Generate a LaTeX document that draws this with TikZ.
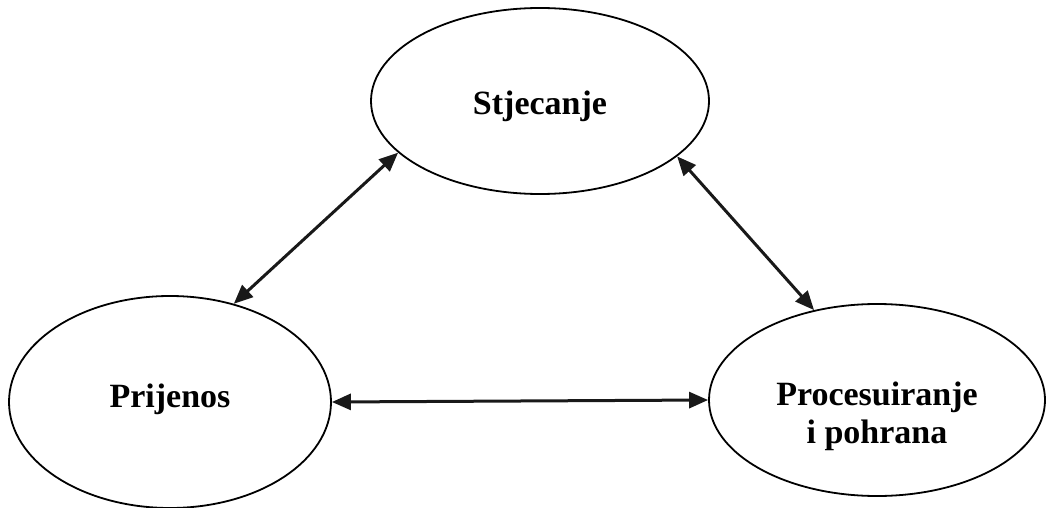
\documentclass[tikz,border=0pt]{standalone}
\usepackage{fontspec}
\setmainfont{Liberation Serif}
\usepackage{tikz}
\usetikzlibrary{arrows.meta,positioning,shapes.geometric}
\tikzset{
  stage/.style={ellipse,draw,line width=1.8pt,inner sep=0pt,align=center,
    font=\bfseries\fontsize{34}{38}\selectfont},
  link/.style={{Triangle[length=19pt,width=16pt]}-{Triangle[length=19pt,width=16pt]},
    line width=3pt,black!90}
}

\begin{document}
\begin{tikzpicture}[x=1pt,y=-1pt]
  \useasboundingbox (0,0) rectangle (1046,508);
  \node[stage,minimum width=338pt,minimum height=186pt,text height=28pt,text depth=0pt] (acq) at (540,101) {Stjecanje};
  \node[stage,minimum width=322pt,minimum height=212pt,text height=20pt,text depth=10pt] (trans) at (170,402) {Prijenos};
  \node[stage,minimum width=336pt,minimum height=192pt,text height=86pt,text depth=0pt] (proc) at (877,400) {Procesuiranje\\i pohrana};
  \draw[link] (acq.200) -- (trans.57);
  \draw[link] (acq.338) -- (proc.125);
  \draw[link] (trans.east) -- (proc.west);
\end{tikzpicture}
\end{document}
